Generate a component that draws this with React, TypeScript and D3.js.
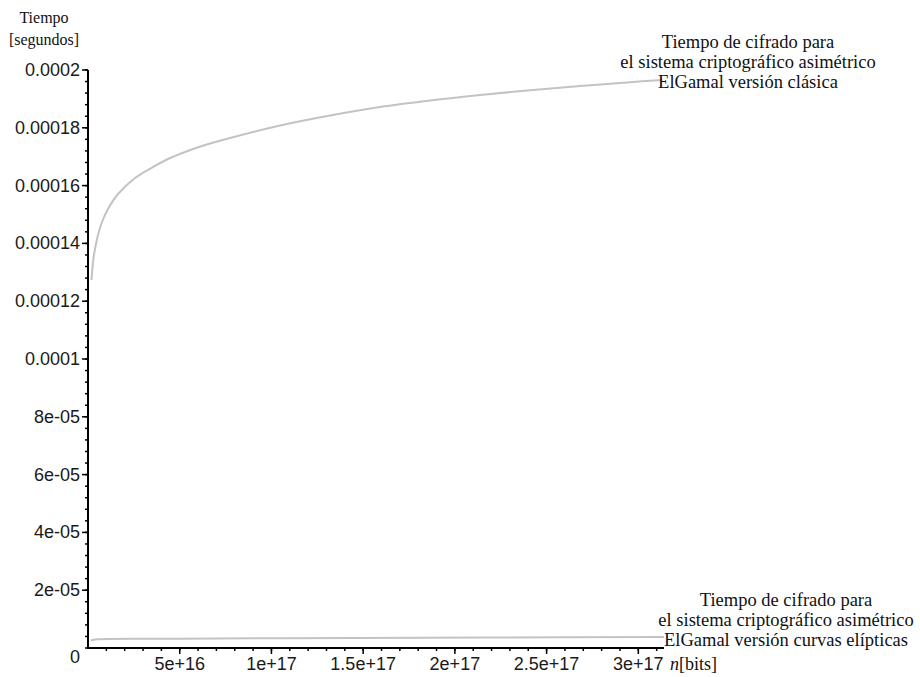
import React from "react";
import * as d3 from "d3";

// Key length n (bits) and encryption time (seconds)
const classicN = [0.191e16, 0.273e16, 0.382e16, 0.545e16, 0.763e16, 1.091e16, 1.636e16, 2.563e16, 3.49e16, 4.362e16, 5.289e16, 6.216e16, 7.743e16, 10.469e16, 13.195e16, 15.921e16, 18.648e16, 21.374e16, 24.1e16, 26.827e16, 29.553e16, 31.298e16];
const classicT = [1.2734e-4, 1.3356e-4, 1.3806e-4, 1.4291e-4, 1.474e-4, 1.519e-4, 1.5709e-4, 1.6263e-4, 1.6626e-4, 1.692e-4, 1.7163e-4, 1.737e-4, 1.7647e-4, 1.808e-4, 1.8426e-4, 1.872e-4, 1.8945e-4, 1.9135e-4, 1.9301e-4, 1.9446e-4, 1.9578e-4, 1.9654e-4];

const ellipticN = [0.15e16, 0.5e16, 5e16, 14.5e16, 22e16, 31.4e16];
const ellipticT = [2.6e-6, 3.0e-6, 3.2e-6, 3.5e-6, 3.65e-6, 3.8e-6];

const yTicks = [2e-5, 4e-5, 6e-5, 8e-5, 1e-4, 1.2e-4, 1.4e-4, 1.6e-4, 1.8e-4, 2e-4];
const yTickLabels = ["2e-05", "4e-05", "6e-05", "8e-05", "0.0001", "0.00012", "0.00014", "0.00016", "0.00018", "0.0002"];
const xTicks = [5e16, 1e17, 1.5e17, 2e17, 2.5e17, 3e17];
const xTickLabels = ["5e+16", "1e+17", "1.5e+17", "2e+17", "2.5e+17", "3e+17"];

const classicLabel = ["Tiempo de cifrado para", "el sistema criptográfico asimétrico", "ElGamal versión clásica"];
const ellipticLabel = ["Tiempo de cifrado para", "el sistema criptográfico asimétrico", "ElGamal versión curvas elípticas"];
const yTitle = ["Tiempo", "[segundos]"];

const W = 920;
const H = 677;
const SANS = "'Liberation Sans', Arial, sans-serif";
const SERIF = "'Liberation Serif', 'DejaVu Serif', serif";

export default function App() {
  const x = d3.scaleLinear().domain([0, 3.14e17]).range([88, 664]);
  const y = d3.scaleLinear().domain([0, 2e-4]).range([648, 70]);

  const line = d3
    .line<[number, number]>()
    .x((d) => x(d[0]))
    .y((d) => y(d[1]))
    .curve(d3.curveCatmullRom.alpha(0.5));

  const classic = classicN.map((n, i) => [n, classicT[i]] as [number, number]);
  const elliptic = ellipticN.map((n, i) => [n, ellipticT[i]] as [number, number]);

  const yMinor = d3.range(0, 2e-4 + 1e-12, 4e-6);
  const xMinor = d3.range(1e16, 3.14e17, 1e16);

  const x0 = x(0);
  const y0 = y(0);

  const classicEndY = y(classicT[classicT.length - 1]);
  const ellipticEndY = y(ellipticT[ellipticT.length - 1]);

  return (
    <svg width={W} height={H} style={{ position: "absolute", left: 0, top: 0, background: "#fff" }}>
      {/* y-axis title */}
      {yTitle.map((t, i) => (
        <text key={t} x={44} y={17 + i * 22} textAnchor="middle" dominantBaseline="central" fontFamily={SERIF} fontSize={16} fill="#111">
          {t}
        </text>
      ))}

      {/* curves */}
      <path d={line(classic) || ""} fill="none" stroke="#c3c3c3" strokeWidth={2} />
      <path d={line(elliptic) || ""} fill="none" stroke="#c3c3c3" strokeWidth={2} />

      {/* y axis */}
      <line x1={x0} x2={x0} y1={y(2e-4)} y2={y0} stroke="#000" strokeWidth={2} />
      {yMinor.map((v) => (
        <line key={"ym" + v} x1={x0 - 3} x2={x0} y1={y(v)} y2={y(v)} stroke="#000" strokeWidth={1.5} />
      ))}
      {yTicks.map((v, i) => (
        <g key={"yt" + v}>
          <line x1={x0 - 6} x2={x0} y1={y(v)} y2={y(v)} stroke="#000" strokeWidth={1.5} />
          <text x={x0 - 8} y={y(v)} textAnchor="end" dominantBaseline="central" fontFamily={SANS} fontSize={18} fill="#1a1a1a">
            {yTickLabels[i]}
          </text>
        </g>
      ))}
      <text x={x0 - 8} y={y0 + 9} textAnchor="end" dominantBaseline="central" fontFamily={SANS} fontSize={18} fill="#1a1a1a">
        0
      </text>

      {/* x axis */}
      <line x1={x0 - 1} x2={x(3.14e17)} y1={y0} y2={y0} stroke="#000" strokeWidth={2} />
      {xMinor.map((v) => (
        <line key={"xm" + v} x1={x(v)} x2={x(v)} y1={y0} y2={y0 + 3} stroke="#000" strokeWidth={1.5} />
      ))}
      {xTicks.map((v, i) => (
        <g key={"xt" + v}>
          <line x1={x(v)} x2={x(v)} y1={y0} y2={y0 + 6} stroke="#000" strokeWidth={1.5} />
          <text x={x(v)} y={y0 + 16} textAnchor="middle" dominantBaseline="central" fontFamily={SANS} fontSize={18} fill="#1a1a1a">
            {xTickLabels[i]}
          </text>
        </g>
      ))}
      <text x={670} y={y0 + 16} dominantBaseline="central" fontFamily={SERIF} fontSize={18} fill="#111">
        <tspan fontStyle="italic">n</tspan>[bits]
      </text>

      {/* curve annotations */}
      {classicLabel.map((t, i) => (
        <text key={"cl" + i} x={748} y={classicEndY - 38 + i * 20} textAnchor="middle" dominantBaseline="central" fontFamily={SERIF} fontSize={18.5} fill="#111">
          {t}
        </text>
      ))}
      {ellipticLabel.map((t, i) => (
        <text key={"el" + i} x={786} y={ellipticEndY - 37 + i * 20} textAnchor="middle" dominantBaseline="central" fontFamily={SERIF} fontSize={18.5} fill="#111">
          {t}
        </text>
      ))}
    </svg>
  );
}
